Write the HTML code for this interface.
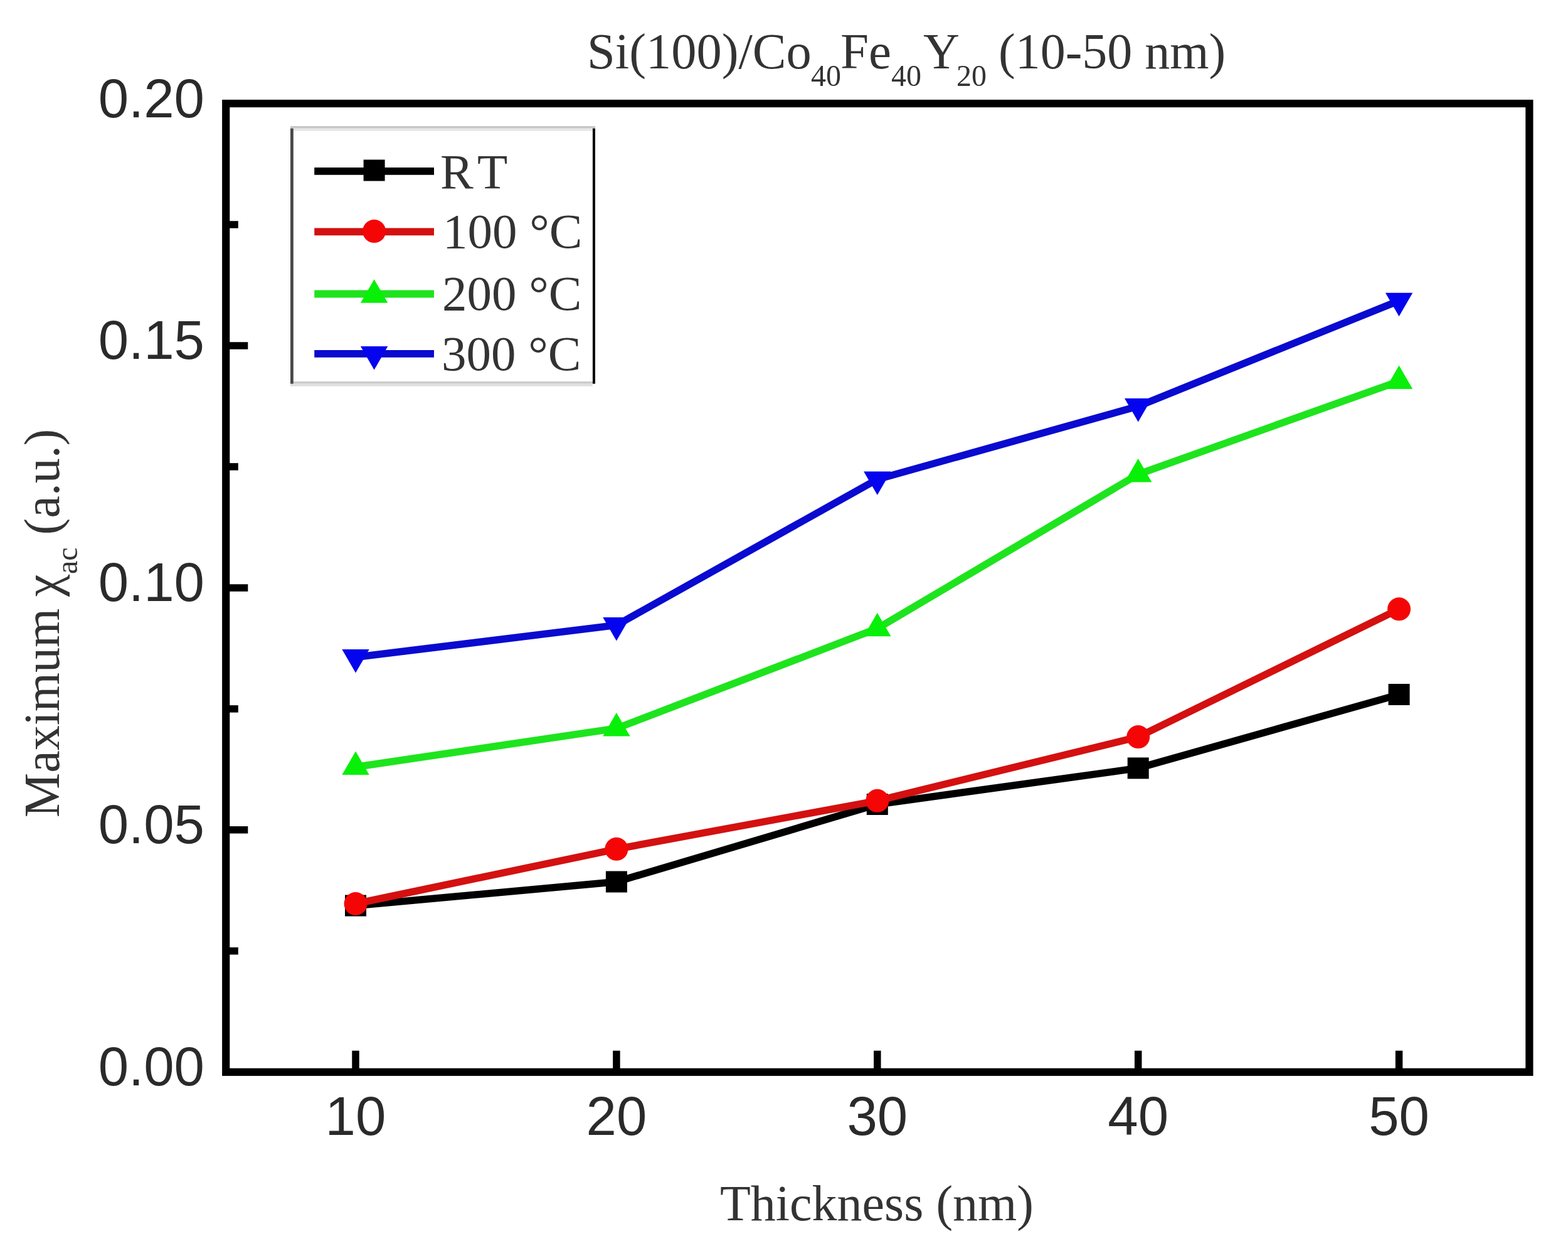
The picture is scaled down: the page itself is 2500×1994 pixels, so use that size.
<!DOCTYPE html>
<html><head><meta charset="utf-8"><title>Maximum chi_ac vs Thickness</title>
<style>html,body{margin:0;padding:0;background:#fff;overflow:hidden;}svg{display:block;}</style></head><body>
<svg width="2500" height="1994" viewBox="0 0 2500 1994">
<rect x="0" y="0" width="2500" height="1994" fill="#fff"/>
<text x="936" y="108.5" font-family='"Liberation Serif", "Times New Roman", serif' font-size="80.5" fill="#333">Si(100)/Co</text>
<text x="1293" y="137.0" font-family='"Liberation Serif", "Times New Roman", serif' font-size="48" fill="#333">40</text>
<text x="1340" y="108.5" font-family='"Liberation Serif", "Times New Roman", serif' font-size="81" fill="#333">Fe</text>
<text x="1421" y="137.0" font-family='"Liberation Serif", "Times New Roman", serif' font-size="48" fill="#333">40</text>
<text x="1472" y="108.5" font-family='"Liberation Serif", "Times New Roman", serif' font-size="80" fill="#333">Y</text>
<text x="1525" y="137.0" font-family='"Liberation Serif", "Times New Roman", serif' font-size="48" fill="#333">20</text>
<text x="1592" y="108.5" font-family='"Liberation Serif", "Times New Roman", serif' font-size="80" fill="#333">(10-50 nm)</text>
<rect x="360.2" y="165.0" width="2078.2" height="1543.8" fill="none" stroke="#000" stroke-width="12.2"/>
<line x1="360.2" y1="1515.8" x2="379.8" y2="1515.8" stroke="#000" stroke-width="11.5"/>
<line x1="360.2" y1="1322.8" x2="395.3" y2="1322.8" stroke="#000" stroke-width="11.5"/>
<line x1="360.2" y1="1129.9" x2="379.8" y2="1129.9" stroke="#000" stroke-width="11.5"/>
<line x1="360.2" y1="936.9" x2="395.3" y2="936.9" stroke="#000" stroke-width="11.5"/>
<line x1="360.2" y1="743.9" x2="379.8" y2="743.9" stroke="#000" stroke-width="11.5"/>
<line x1="360.2" y1="550.9" x2="395.3" y2="550.9" stroke="#000" stroke-width="11.5"/>
<line x1="360.2" y1="358.0" x2="379.8" y2="358.0" stroke="#000" stroke-width="11.5"/>
<line x1="567.0" y1="1708.8" x2="567.0" y2="1674.7" stroke="#000" stroke-width="11.5"/>
<line x1="982.9" y1="1708.8" x2="982.9" y2="1674.7" stroke="#000" stroke-width="11.5"/>
<line x1="1398.8" y1="1708.8" x2="1398.8" y2="1674.7" stroke="#000" stroke-width="11.5"/>
<line x1="1814.7" y1="1708.8" x2="1814.7" y2="1674.7" stroke="#000" stroke-width="11.5"/>
<line x1="2230.6" y1="1708.8" x2="2230.6" y2="1674.7" stroke="#000" stroke-width="11.5"/>
<text x="326" y="1730.3" font-family='"Liberation Sans", Arial, sans-serif' font-size="87" fill="#2a2a2a" text-anchor="end">0.00</text>
<text x="326" y="1344.3" font-family='"Liberation Sans", Arial, sans-serif' font-size="87" fill="#2a2a2a" text-anchor="end">0.05</text>
<text x="326" y="958.4" font-family='"Liberation Sans", Arial, sans-serif' font-size="87" fill="#2a2a2a" text-anchor="end">0.10</text>
<text x="326" y="572.4" font-family='"Liberation Sans", Arial, sans-serif' font-size="87" fill="#2a2a2a" text-anchor="end">0.15</text>
<text x="326" y="186.5" font-family='"Liberation Sans", Arial, sans-serif' font-size="87" fill="#2a2a2a" text-anchor="end">0.20</text>
<text x="567.0" y="1809" font-family='"Liberation Sans", Arial, sans-serif' font-size="87" fill="#2a2a2a" text-anchor="middle">10</text>
<text x="982.9" y="1809" font-family='"Liberation Sans", Arial, sans-serif' font-size="87" fill="#2a2a2a" text-anchor="middle">20</text>
<text x="1398.8" y="1809" font-family='"Liberation Sans", Arial, sans-serif' font-size="87" fill="#2a2a2a" text-anchor="middle">30</text>
<text x="1814.7" y="1809" font-family='"Liberation Sans", Arial, sans-serif' font-size="87" fill="#2a2a2a" text-anchor="middle">40</text>
<text x="2230.6" y="1809" font-family='"Liberation Sans", Arial, sans-serif' font-size="87" fill="#2a2a2a" text-anchor="middle">50</text>
<text x="1148" y="1945" font-family='"Liberation Serif", "Times New Roman", serif' font-size="80" fill="#333">Thickness (nm)</text>
<g transform="translate(94,1303) rotate(-90)">
<text x="0" y="0" font-family='"Liberation Serif", "Times New Roman", serif' font-size="80" fill="#333">Maximum</text>
<text x="352" y="0" font-family='"Liberation Serif", "Times New Roman", serif' font-size="80" fill="#333">χ</text>
<text x="388" y="29" font-family='"Liberation Serif", "Times New Roman", serif' font-size="48" fill="#333">ac</text>
<text x="450.5" y="0" font-family='"Liberation Serif", "Times New Roman", serif' font-size="80" fill="#333">(a.u.)</text>
</g>
<polyline points="567.0,1443.5 982.9,1405.5 1398.8,1282.0 1814.7,1224.4 2230.6,1107.0" fill="none" stroke="#000000" stroke-width="11.5" stroke-linejoin="miter" stroke-miterlimit="3"/>
<rect x="550.0" y="1426.5" width="34" height="34" fill="#000000"/>
<rect x="965.9" y="1388.5" width="34" height="34" fill="#000000"/>
<rect x="1381.8" y="1265.0" width="34" height="34" fill="#000000"/>
<rect x="1797.7" y="1207.4" width="34" height="34" fill="#000000"/>
<rect x="2213.6" y="1090.0" width="34" height="34" fill="#000000"/>
<polyline points="567.0,1440.5 982.9,1353.3 1398.8,1276.3 1814.7,1174.6 2230.6,970.8" fill="none" stroke="#d41010" stroke-width="11.5" stroke-linejoin="miter" stroke-miterlimit="3"/>
<circle cx="567.0" cy="1440.5" r="18.5" fill="#f40606"/>
<circle cx="982.9" cy="1353.3" r="18.5" fill="#f40606"/>
<circle cx="1398.8" cy="1276.3" r="18.5" fill="#f40606"/>
<circle cx="1814.7" cy="1174.6" r="18.5" fill="#f40606"/>
<circle cx="2230.6" cy="970.8" r="18.5" fill="#f40606"/>
<polyline points="567.0,1222.5 982.9,1161.0 1398.8,1001.7 1814.7,756.0 2230.6,607.6" fill="none" stroke="#1ee41e" stroke-width="11.5" stroke-linejoin="miter" stroke-miterlimit="3"/>
<polygon points="567.0,1197.5 588.7,1235.0 545.3,1235.0" fill="#08f008"/>
<polygon points="982.9,1136.0 1004.6,1173.5 961.2,1173.5" fill="#08f008"/>
<polygon points="1398.8,976.7 1420.5,1014.2 1377.1,1014.2" fill="#08f008"/>
<polygon points="1814.7,731.0 1836.4,768.5 1793.0,768.5" fill="#08f008"/>
<polygon points="2230.6,582.6 2252.3,620.1 2208.9,620.1" fill="#08f008"/>
<polyline points="567.0,1047.5 982.9,996.5 1398.8,764.0 1814.7,647.5 2230.6,479.3" fill="none" stroke="#0a0ad0" stroke-width="11.5" stroke-linejoin="miter" stroke-miterlimit="3"/>
<polygon points="545.3,1035.0 588.7,1035.0 567.0,1072.5" fill="#0404ee"/>
<polygon points="961.2,984.0 1004.6,984.0 982.9,1021.5" fill="#0404ee"/>
<polygon points="1377.1,751.5 1420.5,751.5 1398.8,789.0" fill="#0404ee"/>
<polygon points="1793.0,635.0 1836.4,635.0 1814.7,672.5" fill="#0404ee"/>
<polygon points="2208.9,466.8 2252.3,466.8 2230.6,504.3" fill="#0404ee"/>
<rect x="463" y="201" width="486" height="414.8" fill="#fff"/>
<rect x="463" y="201" width="486" height="3.7" fill="#c6c6c6"/>
<rect x="467.8" y="204.7" width="477.1" height="4" fill="#e6e6e6"/>
<rect x="467.8" y="608" width="477.1" height="3.7" fill="#cbcbcb"/>
<rect x="463" y="611.7" width="481.9" height="4.1" fill="#e0e0e0"/>
<rect x="463" y="204.7" width="4.8" height="407" fill="#484848"/>
<rect x="944.9" y="204.7" width="4.1" height="407" fill="#0e0e0e"/>
<line x1="501.2" y1="272.9" x2="692" y2="272.9" stroke="#000000" stroke-width="11.8"/>
<rect x="579.6" y="254.5" width="34" height="34" fill="#000000"/>
<line x1="501.2" y1="369.3" x2="692" y2="369.3" stroke="#d41010" stroke-width="11.8"/>
<circle cx="596.6" cy="368.6" r="18.5" fill="#f40606"/>
<line x1="501.2" y1="468.5" x2="692" y2="468.5" stroke="#1ee41e" stroke-width="11.8"/>
<polygon points="596.6,445.3 618.3,482.8 574.9,482.8" fill="#08f008"/>
<line x1="501.2" y1="563.9" x2="692" y2="563.9" stroke="#0a0ad0" stroke-width="11.8"/>
<polygon points="574.9,552.0 618.3,552.0 596.6,589.5" fill="#0404ee"/>
<text x="702" y="299.5" font-family='"Liberation Serif", "Times New Roman", serif' font-size="79" fill="#333">R</text>
<text x="761" y="299.5" font-family='"Liberation Serif", "Times New Roman", serif' font-size="79" fill="#333">T</text>
<text x="706" y="395.3" font-family='"Liberation Serif", "Times New Roman", serif' font-size="79" fill="#333">100 °C</text>
<text x="705" y="494.2" font-family='"Liberation Serif", "Times New Roman", serif' font-size="79" fill="#333">200 °C</text>
<text x="704" y="590" font-family='"Liberation Serif", "Times New Roman", serif' font-size="79" fill="#333">300 °C</text>
</svg></body></html>
